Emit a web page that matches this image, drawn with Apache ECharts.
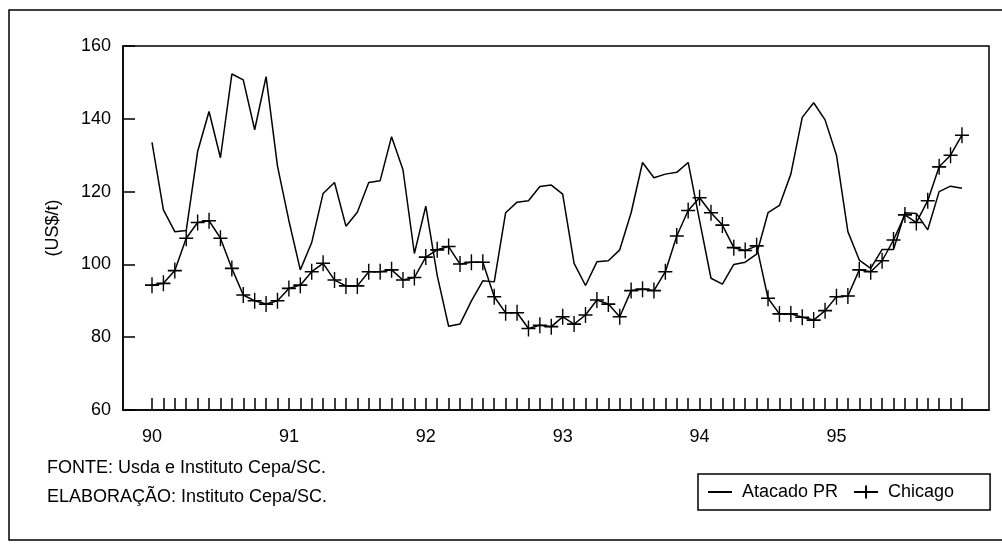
<!DOCTYPE html>
<html>
<head>
<meta charset="utf-8">
<script src="https://cdn.jsdelivr.net/npm/echarts@6/dist/echarts.min.js"></script>
<style>
  html, body { margin: 0; padding: 0; background: #fff; }
  #chart { width: 1002px; height: 552px; }
</style>
</head>
<body>
<div id="chart"></div>
<script>
// Year labels placed at January of each year (month index 0, 12, 24, ...)
const yearLabels = ['90', '91', '92', '93', '94', '95'];
const yearMonthIndex = [0, 12, 24, 36, 48, 60];
// Monthly month indices Jan/1990 .. Dec/1995
const monthIndex = [
  0,1,2,3,4,5,6,7,8,9,10,11,
  12,13,14,15,16,17,18,19,20,21,22,23,
  24,25,26,27,28,29,30,31,32,33,34,35,
  36,37,38,39,40,41,42,43,44,45,46,47,
  48,49,50,51,52,53,54,55,56,57,58,59,
  60,61,62,63,64,65,66,67,68,69,70,71
];
// Atacado PR (US$/t)
const atacadoPR = [
  133.5,115,109,109.3,131,142,129.3,152.3,150.7,137,151.6,127,
  112,98.5,106,119.5,122.5,110.5,114.3,122.5,123,135.1,126,103,
  116,97,83,83.6,90,95.5,95.2,114.2,117.1,117.5,121.4,121.8,
  119.3,100.3,94.2,100.7,101,104,114.2,128,123.8,124.8,125.3,128,
  112,96.2,94.6,100,100.6,102.8,114.2,116.2,124.8,140.4,144.4,139.7,
  130,109,101.2,98.9,104.1,104.1,114.2,114,109.5,120,121.5,120.9
];
// Chicago (US$/t)
const chicago = [
  94.3,94.8,98.3,107.2,111.5,112,107.2,98.9,91.6,90,89.1,90,
  93.4,94.3,98,100.3,95.7,94.1,94.1,98,98,98.5,95.7,96.4,
  102,104,104.9,100.1,100.6,100.6,91.1,86.7,86.7,82.4,83.3,82.9,
  85.6,83.6,86.1,90.2,89.1,85.6,92.8,93.2,92.8,98,107.8,114.8,
  118.3,114.2,110.8,104.6,103.8,105.1,90.7,86.4,86.4,85.5,84.7,87.3,
  91.1,91.3,98.5,98,101,106.7,113.6,111.5,117.5,126.8,130,135.5
];
const seriesNames = ['Atacado PR', 'Chicago'];
const yTicks = { min: 60, max: 160, interval: 20 };
const yAxisName = '(US$/t)';
const sourceLines = ['FONTE: Usda e Instituto Cepa/SC.', 'ELABORAÇÃO: Instituto Cepa/SC.'];

const FONT = 'Liberation Sans, Arial, Helvetica, sans-serif';
const chart = echarts.init(document.getElementById('chart'), null, { renderer: 'canvas' });

const pairs = (vals) => vals.map((v, i) => [monthIndex[i], v]);

const option = {
  backgroundColor: '#fff',
  animation: false,
  textStyle: { fontFamily: FONT, color: '#000' },
  grid: {
    left: 123, top: 46, right: 13, bottom: 142,
    show: true, borderColor: '#000', borderWidth: 1.5, backgroundColor: 'transparent'
  },
  xAxis: {
    type: 'value',
    min: -2.542,
    max: 73.37,
    splitLine: { show: false },
    axisLine: { show: true, onZero: false, lineStyle: { color: '#000', width: 1.5 } },
    axisTick: {
      show: true, inside: true, length: 12,
      customValues: monthIndex,
      lineStyle: { color: '#000', width: 1.5 }
    },
    axisLabel: {
      show: true,
      customValues: yearMonthIndex,
      formatter: (v) => yearLabels[yearMonthIndex.indexOf(Math.round(v))] || '',
      fontFamily: FONT, fontSize: 18, color: '#000', margin: 18
    }
  },
  yAxis: {
    type: 'value',
    min: yTicks.min, max: yTicks.max, interval: yTicks.interval,
    name: yAxisName,
    nameLocation: 'middle',
    nameRotate: 90,
    nameGap: 61,
    nameTextStyle: { fontFamily: FONT, fontSize: 18, color: '#000' },
    splitLine: { show: false },
    axisLine: { show: true, onZero: false, lineStyle: { color: '#000', width: 1.5 } },
    axisTick: { show: true, inside: true, length: 12, lineStyle: { color: '#000', width: 1.5 } },
    axisLabel: { fontFamily: FONT, fontSize: 18, color: '#000', margin: 12 }
  },
  legend: {
    left: 698, top: 474,
    orient: 'horizontal',
    data: [
      { name: seriesNames[0], itemStyle: { opacity: 0 } },
      { name: seriesNames[1] }
    ],
    borderColor: '#000', borderWidth: 1.5,
    padding: [9, 36, 9, 9],
    itemWidth: 24, itemHeight: 16, itemGap: 15,
    backgroundColor: '#fff',
    textStyle: { fontFamily: FONT, fontSize: 18, color: '#000', padding: [0, 0, 0, 5] }
  },
  series: [
    {
      name: seriesNames[0],
      type: 'line',
      data: pairs(atacadoPR),
      symbol: 'none',
      showSymbol: false,
      lineStyle: { color: '#000', width: 1.5 },
      itemStyle: { color: '#000' },
      z: 3
    },
    {
      name: seriesNames[1],
      type: 'line',
      data: pairs(chicago),
      symbol: 'path://M0,8 L14,8 M7,0 L7,16',
      symbolSize: [14, 16],
      showSymbol: true,
      lineStyle: { color: '#000', width: 1.5 },
      itemStyle: { color: '#000', borderColor: '#000', borderWidth: 1.5 },
      z: 4
    }
  ],
  graphic: [
    {
      type: 'rect', silent: true, z: -1,
      shape: { x: 9, y: 10, width: 1010, height: 530 },
      style: { fill: 'none', stroke: '#000', lineWidth: 1.5 }
    },
    {
      type: 'text', left: 47, top: 459,
      style: { text: sourceLines[0], font: '18px ' + FONT, fill: '#000' }
    },
    {
      type: 'text', left: 47, top: 488,
      style: { text: sourceLines[1], font: '18px ' + FONT, fill: '#000' }
    }
  ]
};
chart.setOption(option);
</script>
</body>
</html>
